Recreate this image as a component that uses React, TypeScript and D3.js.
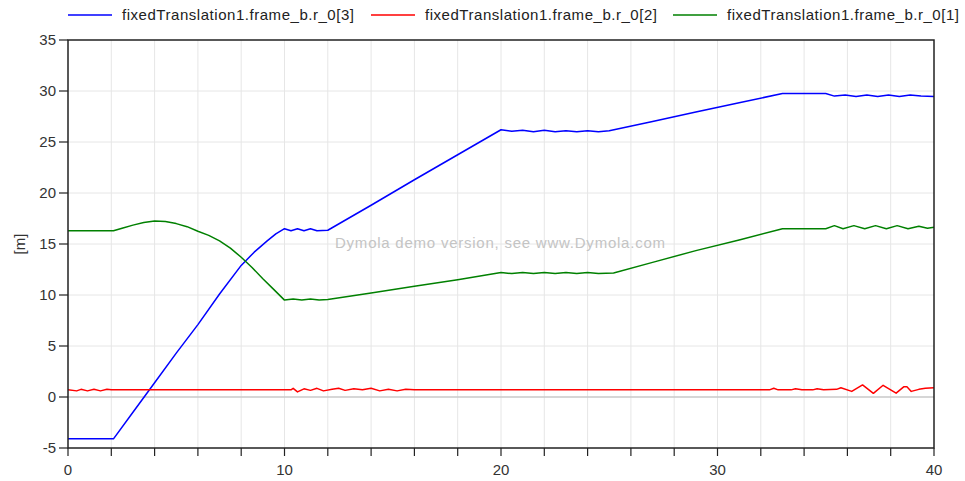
import React from "react";
import * as d3 from "d3";

// Simulation results: time [s] vs position [m]
const seriesNames = [
  "fixedTranslation1.frame_b.r_0[3]",
  "fixedTranslation1.frame_b.r_0[2]",
  "fixedTranslation1.frame_b.r_0[1]",
];
const seriesColors = ["#0000ff", "#ff0000", "#008000"];

const r0z: [number, number][] = [
  [0, -4.1], [2.1, -4.1], [3, -1.5], [4, 1.4], [5, 4.3], [6, 7.1], [7, 10.1], [8, 12.9],
  [8.6, 14.2], [9.2, 15.3], [9.6, 16.0], [10, 16.5], [10.3, 16.3], [10.6, 16.5], [10.9, 16.3], [11.2, 16.5],
  [11.5, 16.3], [12, 16.35], [14, 18.8], [16, 21.3], [18, 23.75], [20, 26.2], [20.5, 26.05],
  [21, 26.15], [21.5, 26.0], [22, 26.15], [22.5, 26.0], [23, 26.1], [23.5, 26.0], [24, 26.1],
  [24.5, 26.0], [25, 26.1], [27, 27.0], [29, 27.95], [31, 28.85], [33, 29.75], [35, 29.75],
  [35.4, 29.5], [35.9, 29.6], [36.4, 29.45], [36.9, 29.6], [37.4, 29.45], [37.9, 29.6],
  [38.4, 29.45], [38.9, 29.6], [39.4, 29.5], [40, 29.45],
];

const r0y: [number, number][] = [
  [0, 0.7], [0.4, 0.6], [0.6, 0.75], [0.9, 0.6], [1.2, 0.75], [1.5, 0.6], [1.8, 0.75], [2.0, 0.7],
  [10.3, 0.7], [10.4, 0.85], [10.6, 0.5], [10.9, 0.8], [11.2, 0.65], [11.5, 0.85], [11.8, 0.6],
  [12.2, 0.75], [12.5, 0.85], [12.8, 0.65], [13.2, 0.8], [13.6, 0.7], [14.0, 0.85], [14.4, 0.6],
  [14.8, 0.75], [15.2, 0.6], [15.6, 0.75], [16, 0.7], [32.4, 0.7], [32.6, 0.85], [32.8, 0.7],
  [33.4, 0.7], [33.6, 0.8], [33.9, 0.7], [34.4, 0.7], [34.6, 0.8], [34.9, 0.7], [35.5, 0.75],
  [35.7, 0.9], [36.2, 0.55], [36.7, 1.18], [37.2, 0.36], [37.65, 1.15], [38.25, 0.38],
  [38.6, 1.0], [38.75, 1.0], [38.95, 0.55], [39.3, 0.75], [39.6, 0.85], [40, 0.9],
];

const r0x: [number, number][] = [
  [0, 16.3], [2.1, 16.3], [2.5, 16.55], [3, 16.85], [3.5, 17.1], [4, 17.25], [4.5, 17.2],
  [5, 17.0], [5.5, 16.7], [6, 16.25], [6.5, 15.85], [7, 15.3], [7.5, 14.6], [8, 13.7],
  [8.5, 12.7], [9, 11.6], [9.5, 10.55], [10, 9.5], [10.4, 9.6], [10.8, 9.5], [11.2, 9.6],
  [11.6, 9.5], [12, 9.55], [14, 10.2], [16, 10.85], [18, 11.5], [20, 12.2], [20.5, 12.1],
  [21, 12.2], [21.5, 12.1], [22, 12.2], [22.5, 12.1], [23, 12.2], [23.5, 12.1], [24, 12.2],
  [24.5, 12.1], [25.2, 12.15], [27, 13.2], [29, 14.35], [31, 15.4], [33, 16.5], [35, 16.5],
  [35.4, 16.8], [35.8, 16.5], [36.3, 16.8], [36.8, 16.5], [37.3, 16.8], [37.8, 16.5],
  [38.3, 16.8], [38.8, 16.5], [39.3, 16.75], [39.7, 16.55], [40, 16.65],
];

const seriesData = [r0z, r0y, r0x];

const xTicks = [0, 2, 4, 6, 8, 10, 12, 14, 16, 18, 20, 22, 24, 26, 28, 30, 32, 34, 36, 38, 40];
const xLabels = [0, 10, 20, 30, 40];
const yTicks = [-5, 0, 5, 10, 15, 20, 25, 30, 35];
const yUnit = "[m]";
const watermark = "Dymola demo version, see www.Dymola.com";

const W = 965;
const H = 481;
const m = { left: 68, right: 31, top: 40, bottom: 33 };
const FONT = "'Liberation Sans', Arial, sans-serif";

export default function App() {
  const x = d3.scaleLinear().domain([0, 40]).range([m.left, W - m.right]);
  const y = d3.scaleLinear().domain([-5, 35]).range([H - m.bottom, m.top]);
  const line = d3
    .line<[number, number]>()
    .x((d) => x(d[0]))
    .y((d) => y(d[1]));

  const legendX = [68, 371, 673];

  return (
    <div style={{ position: "fixed", left: 0, top: 0 }}>
      <svg width={W} height={H} style={{ display: "block", background: "#fff" }}>
        {/* grid */}
        {xTicks.slice(1, -1).map((t) => (
          <line key={"gx" + t} x1={x(t)} x2={x(t)} y1={m.top} y2={H - m.bottom} stroke="#e6e6e6" strokeWidth={1} />
        ))}
        {yTicks.slice(1, -1).map((t) => (
          <line
            key={"gy" + t}
            x1={m.left}
            x2={W - m.right}
            y1={y(t)}
            y2={y(t)}
            stroke={t === 0 ? "#c8c8c8" : "#e6e6e6"}
            strokeWidth={t === 0 ? 1.5 : 1}
          />
        ))}

        {/* watermark */}
        <text
          x={335}
          y={y(15.1)}
          dy="0.35em"
          fontFamily={FONT}
          fontSize={15}
          textLength={330}
          lengthAdjust="spacing"
          fill="#c4c4c4"
        >
          {watermark}
        </text>

        {/* series */}
        {seriesData.map((d, i) => (
          <path key={i} d={line(d) || ""} fill="none" stroke={seriesColors[i]} strokeWidth={1.5} strokeLinejoin="round" />
        ))}

        {/* frame */}
        <rect
          x={m.left}
          y={m.top}
          width={W - m.left - m.right}
          height={H - m.top - m.bottom}
          fill="none"
          stroke="#222"
          strokeWidth={1.5}
        />

        {/* y axis */}
        {yTicks.map((t) => (
          <g key={"yt" + t}>
            <line x1={m.left - 9} x2={m.left} y1={y(t)} y2={y(t)} stroke="#222" strokeWidth={1.2} />
            <text x={m.left - 12} y={y(t)} dy="0.36em" textAnchor="end" fontFamily={FONT} fontSize={15} fill="#333">
              {t}
            </text>
          </g>
        ))}
        <text
          transform={`translate(${20},${y(15)}) rotate(-90)`}
          textAnchor="middle"
          dy="0.35em"
          fontFamily={FONT}
          fontSize={15}
          fill="#333"
        >
          {yUnit}
        </text>

        {/* x axis */}
        {xTicks.map((t) => (
          <line key={"xt" + t} x1={x(t)} x2={x(t)} y1={H - m.bottom} y2={H - m.bottom + 8} stroke="#222" strokeWidth={1.2} />
        ))}
        {xLabels.map((t) => (
          <text key={"xl" + t} x={x(t)} y={H - m.bottom + 27} textAnchor="middle" fontFamily={FONT} fontSize={15} fill="#333">
            {t}
          </text>
        ))}

        {/* legend */}
        {seriesNames.map((name, i) => (
          <g key={"lg" + i}>
            <line x1={legendX[i]} x2={legendX[i] + 44} y1={15} y2={15} stroke={seriesColors[i]} strokeWidth={1.5} />
            <text
              x={legendX[i] + 54}
              y={15}
              dy="0.36em"
              fontFamily={FONT}
              fontSize={15}
              textLength={232}
              lengthAdjust="spacing"
              fill="#222"
            >
              {name}
            </text>
          </g>
        ))}
      </svg>
    </div>
  );
}
